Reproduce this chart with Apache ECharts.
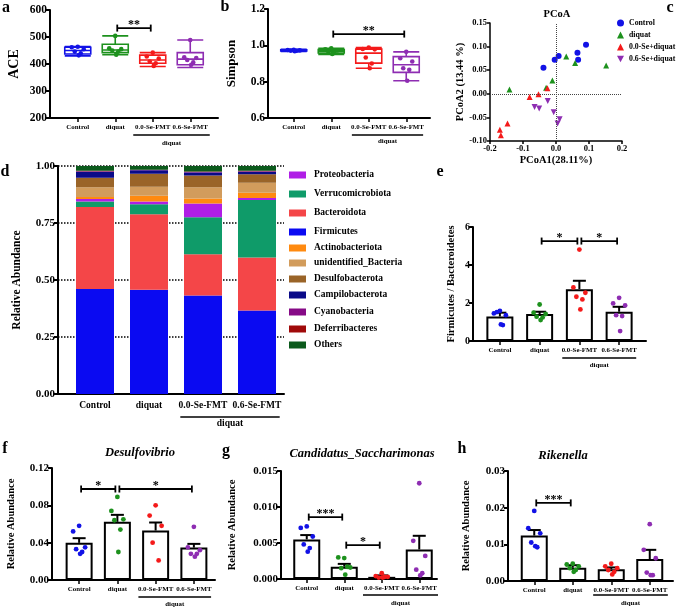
<!DOCTYPE html>
<html>
<head>
<meta charset="UTF-8" />
<title>Gut microbiota</title>
<script src="https://cdn.jsdelivr.net/npm/echarts@6/dist/echarts.min.js"></script>
</head>
<body style="margin:0;background:#fff;">
<div id="main" style="width:685px;height:609px;"></div>
<script type="text/javascript">
// groups on the x axis
var groups = ['Control', 'diquat', '0.0-Se-FMT', '0.6-Se-FMT'];
var groupColors = ['#1212e6', '#1d911d', '#f41a1a', '#8e2db2'];

// a: ACE  [min, Q1, median, Q3, max]
var aceBox = [[430, 437, 450, 462, 465], [434, 442, 452, 473, 504], [391, 403, 415, 433, 442], [387, 397, 418, 442, 489]];
var acePoints = [[464, 462, 455, 446, 440, 432], [504, 458, 455, 450, 446, 434], [442, 428, 420, 409, 403, 393], [489, 425, 422, 415, 406, 397]];

// b: Simpson
var simpsonBox = [[0.966, 0.969, 0.972, 0.975, 0.978], [0.950, 0.958, 0.968, 0.977, 0.984], [0.874, 0.902, 0.957, 0.979, 0.988], [0.805, 0.851, 0.893, 0.938, 0.964]];
var simpsonPoints = [[0.976, 0.974, 0.972, 0.971, 0.970, 0.968], [0.984, 0.978, 0.972, 0.966, 0.958, 0.952], [0.988, 0.980, 0.978, 0.933, 0.900, 0.874], [0.964, 0.929, 0.911, 0.874, 0.865, 0.805]];

// c: PCoA
var pcoaControl = [[0.091, 0.104], [0.065, 0.087], [0.067, 0.072], [0.008, 0.080], [-0.004, 0.072], [-0.038, 0.055]];
var pcoaDiquat = [[0.031, 0.079], [0.058, 0.065], [0.152, 0.060], [-0.011, 0.028], [-0.141, 0.009], [-0.030, 0.013]];
var pcoaSe00 = [[-0.026, 0.012], [-0.053, -0.001], [-0.080, -0.007], [-0.147, -0.063], [-0.170, -0.076], [-0.167, -0.088]];
var pcoaSe06 = [[-0.025, -0.015], [-0.065, -0.028], [-0.051, -0.031], [-0.007, -0.039], [0.011, -0.054], [0.005, -0.063]];

// d: relative abundance of phyla (Control, diquat, 0.0-Se-FMT, 0.6-Se-FMT)
var firmicutes = [0.461, 0.457, 0.432, 0.366];
var bacteroidota = [0.359, 0.331, 0.181, 0.233];
var verrucomicrobiota = [0.024, 0.044, 0.162, 0.252];
var proteobacteria = [0.011, 0.012, 0.060, 0.009];
var actinobacteriota = [0.009, 0.026, 0.022, 0.023];
var unidentifiedBacteria = [0.043, 0.039, 0.050, 0.043];
var desulfobacterota = [0.042, 0.057, 0.051, 0.038];
var campilobacterota = [0.026, 0.015, 0.014, 0.011];
var cyanobacteria = [0.002, 0.002, 0.002, 0.002];
var deferribacteres = [0.002, 0.001, 0.002, 0.002];
var others = [0.021, 0.016, 0.024, 0.021];

// e: Firmicutes / Bacteroidetes
var fbMean = [1.29, 1.42, 2.73, 1.54];
var fbSem = [0.20, 0.12, 0.44, 0.26];
var fbPoints = [[1.59, 1.45, 1.36, 1.52, 0.84, 0.87], [1.92, 1.49, 1.42, 1.28, 1.24, 1.10], [4.81, 2.82, 2.54, 2.33, 2.19, 1.66], [2.27, 1.98, 1.87, 1.36, 1.31, 0.52]];

// f: Desulfovibrio
var desMean = [0.0398, 0.0623, 0.0530, 0.0347];
var desSem = [0.0050, 0.0075, 0.0086, 0.0040];
var desPoints = [[0.058, 0.052, 0.035, 0.033, 0.030, 0.028], [0.089, 0.074, 0.065, 0.064, 0.054, 0.030], [0.080, 0.069, 0.058, 0.040, 0.021], [0.057, 0.035, 0.032, 0.028, 0.028, 0.025]];

// g: Candidatus_Saccharimonas
var candMean = [0.0055, 0.0017, 0.0003, 0.0041];
var candSem = [0.0006, 0.0004, 0.0002, 0.0019];
var candPoints = [[0.0073, 0.0071, 0.0059, 0.0048, 0.0043, 0.0038], [0.0029, 0.0030, 0.0016, 0.0015, 0.0017, 0.0006], [0.0008, 0.0004, 0.0003, 0.0002, 0.0003, 0.0002], [0.0133, 0.0053, 0.0032, 0.0013, 0.0008, 0.0005]];

// h: Rikenella
var rikMean = [0.0124, 0.0036, 0.0032, 0.0060];
var rikSem = [0.0015, 0.0007, 0.0005, 0.0025];
var rikPoints = [[0.0191, 0.0144, 0.0130, 0.0105, 0.0092, 0.0095], [0.0047, 0.0045, 0.0040, 0.0035, 0.0030, 0.0025], [0.0047, 0.0040, 0.0035, 0.0030, 0.0025, 0.0018], [0.0155, 0.0085, 0.0062, 0.0023, 0.0016, 0.0016]];

// significance brackets: [from group, to group, height, stars]
var sigA = [[1, 2, 533, '**']];
var sigB = [[1, 3, 1.062, '**']];
var sigE = [[1, 2, 5.26, '*'], [2, 3, 5.26, '*']];
var sigF = [[0, 1, 0.0975, '*'], [1, 3, 0.0975, '*']];
var sigG = [[0, 1, 0.0086, '***'], [1, 2, 0.0047, '*']];
var sigH = [[0, 1, 0.0213, '***']];

var FONT = '"Liberation Serif", "Times New Roman", serif';
var JIT = [0, -6, 6, -3, 3, 1];
var CAT_FS = 6.9;

var grids = [], xAxes = [], yAxes = [], series = [], graphics = [], legends = [];

// frame grid (axis lines + y labels) and data grid (categories) for one panel
function panel(p, y) {
    var fi = grids.length;
    grids.push({left: p.ax, top: p.top, width: p.ae - p.ax, height: p.bot - p.top, outerBoundsMode: 'none'});
    xAxes.push({gridIndex: fi, type: 'value', min: 0, max: 1,
        axisLine: {show: true, onZero: false, lineStyle: {color: '#000', width: 2}},
        axisTick: {show: false}, axisLabel: {show: false}, splitLine: {show: false}});
    yAxes.push({gridIndex: fi, type: 'value', min: y.min, max: y.max, interval: y.step,
        axisLine: {show: true, onZero: false, lineStyle: {color: '#000', width: 2}},
        axisTick: {show: true, length: 4, lineStyle: {color: '#000', width: 2}},
        axisLabel: {color: '#000', fontFamily: FONT, fontWeight: 'bold', fontSize: y.fs, margin: 3,
            formatter: function (v) { return v.toFixed(y.dec); }},
        splitLine: y.grid ? {show: true, lineStyle: {type: 'dotted', color: '#000', width: 1.5}} : {show: false},
        name: y.name, nameLocation: 'middle', nameGap: y.gap,
        nameTextStyle: {color: '#000', fontFamily: FONT, fontWeight: 'bold', fontSize: y.nfs}});
    var di = grids.length;
    var fs = p.lfs || CAT_FS;
    grids.push({left: p.dl, top: p.top, width: p.dr - p.dl, height: p.bot - p.top, outerBoundsMode: 'none'});
    xAxes.push({gridIndex: di, type: 'category', data: groups,
        axisLine: {show: false},
        axisTick: {show: p.ticks !== false, alignWithLabel: true, length: 4, lineStyle: {color: '#000', width: 1.5}},
        axisLabel: {color: '#000', fontFamily: FONT, fontWeight: 'bold', fontSize: fs, margin: p.lm || 6, interval: 0},
        splitLine: {show: false}});
    yAxes.push({gridIndex: di, type: 'value', min: y.min, max: y.max, show: false});
    // underline + "diquat" under the two FMT groups
    series.push({type: 'custom', xAxisIndex: di, yAxisIndex: di, silent: true, z: 5, data: [[2, y.min]],
        renderItem: function (params, api) {
            var a = api.coord([2, y.min]), b = api.coord([3, y.min]);
            var e = api.size([1, 0])[0] * (p.ext || 0.46);
            return {type: 'group', children: [
                {type: 'line', shape: {x1: a[0] - e, y1: a[1] + p.ul, x2: b[0] + e, y2: a[1] + p.ul},
                    style: {stroke: '#000', lineWidth: 1.5}},
                {type: 'text', style: {x: (a[0] + b[0]) / 2, y: a[1] + p.ut, text: 'diquat', align: 'center',
                    verticalAlign: 'middle', font: 'bold ' + fs + 'px ' + FONT, fill: '#000'}}
            ]};
        }});
    return di;
}

function dots(di, pts, r) {
    var data = [];
    pts.forEach(function (arr, i) { arr.forEach(function (v, k) { data.push([i, v, k]); }); });
    series.push({type: 'custom', xAxisIndex: di, yAxisIndex: di, z: 6, silent: true, data: data, encode: {x: 0, y: 1},
        renderItem: function (params, api) {
            var c = api.coord([api.value(0), api.value(1)]);
            return {type: 'circle', shape: {cx: c[0] + JIT[api.value(2)], cy: c[1], r: r || 2.4},
                style: {fill: groupColors[api.value(0)]}};
        }});
}

function bars(di, mean, sem) {
    series.push({type: 'bar', xAxisIndex: di, yAxisIndex: di, barWidth: 27, silent: true, z: 2, data: mean,
        itemStyle: {color: '#fff', borderColor: '#000', borderWidth: 2}});
    series.push({type: 'custom', xAxisIndex: di, yAxisIndex: di, silent: true, z: 3,
        data: mean.map(function (m, i) { return [i, m, sem[i]]; }), encode: {x: 0, y: 1},
        renderItem: function (params, api) {
            var i = api.value(0), m = api.value(1), s = api.value(2);
            var b = api.coord([i, m]), t = api.coord([i, m + s]);
            return {type: 'group', children: [
                {type: 'line', shape: {x1: b[0], y1: b[1], x2: t[0], y2: t[1]}, style: {stroke: '#000', lineWidth: 2}},
                {type: 'line', shape: {x1: t[0] - 6.5, y1: t[1], x2: t[0] + 6.5, y2: t[1]}, style: {stroke: '#000', lineWidth: 2}}
            ]};
        }});
}

function brackets(di, sig) {
    series.push({type: 'custom', xAxisIndex: di, yAxisIndex: di, silent: true, z: 7,
        data: sig.map(function (s) { return [s[0], s[2]]; }), encode: {x: 0, y: 1},
        renderItem: function (params, api) {
            var s = sig[params.dataIndex];
            var a = api.coord([s[0], s[2]]), b = api.coord([s[1], s[2]]);
            var x1 = a[0] + 2, x2 = b[0] - 2, yy = a[1];
            var st = {stroke: '#000', lineWidth: 1.8};
            return {type: 'group', children: [
                {type: 'line', shape: {x1: x1, y1: yy, x2: x2, y2: yy}, style: st},
                {type: 'line', shape: {x1: x1, y1: yy - 3.5, x2: x1, y2: yy + 3.5}, style: st},
                {type: 'line', shape: {x1: x2, y1: yy - 3.5, x2: x2, y2: yy + 3.5}, style: st},
                {type: 'text', style: {x: (x1 + x2) / 2, y: yy + 3, text: s[3], align: 'center', verticalAlign: 'bottom',
                    font: 'bold 12px ' + FONT, fill: '#000'}}
            ]};
        }});
}

function boxes(di, box, pts) {
    series.push({type: 'boxplot', xAxisIndex: di, yAxisIndex: di, silent: true, boxWidth: [26, 26], z: 3,
        data: box.map(function (v, i) {
            return {value: v, itemStyle: {color: 'rgba(255,255,255,0)', borderColor: groupColors[i], borderWidth: 1.6}};
        })});
    dots(di, pts, 2.3);
}

// a
var aI = panel({ax: 50, ae: 218, dl: 59, dr: 209, top: 10, bot: 118, ul: 17, ut: 25, ext: 0.52},
    {min: 200, max: 600, step: 100, dec: 0, fs: 11.5, name: 'ACE', gap: 29, nfs: 14});
boxes(aI, aceBox, acePoints);
brackets(aI, sigA);

// b
var bI = panel({ax: 268, ae: 430, dl: 275, dr: 425, top: 9, bot: 118, ul: 17, ut: 23, ext: 0.45},
    {min: 0.6, max: 1.2, step: 0.2, dec: 1, fs: 11.5, name: 'Simpson', gap: 30, nfs: 13});
boxes(bI, simpsonBox, simpsonPoints);
brackets(bI, sigB);

// c: PCoA
var cI = grids.length;
grids.push({left: 490, top: 23, width: 132, height: 118, outerBoundsMode: 'none'});
xAxes.push({gridIndex: cI, type: 'value', min: -0.2, max: 0.2, interval: 0.1,
    axisLine: {show: true, onZero: false, lineStyle: {color: '#000', width: 1.5}},
    axisTick: {show: true, length: 3, lineStyle: {color: '#000', width: 1.5}},
    axisLabel: {color: '#000', fontFamily: FONT, fontWeight: 'bold', fontSize: 8.5, margin: 3,
        formatter: function (v) { return v.toFixed(1); }},
    splitLine: {show: false},
    name: 'PCoA1(28.11%)', nameLocation: 'middle', nameGap: 14,
    nameTextStyle: {color: '#000', fontFamily: FONT, fontWeight: 'bold', fontSize: 10.5}});
yAxes.push({gridIndex: cI, type: 'value', min: -0.1, max: 0.15, interval: 0.05,
    axisLine: {show: true, onZero: false, lineStyle: {color: '#000', width: 1.5}},
    axisTick: {show: true, length: 3, lineStyle: {color: '#000', width: 1.5}},
    axisLabel: {color: '#000', fontFamily: FONT, fontWeight: 'bold', fontSize: 8.5, margin: 3,
        formatter: function (v) { return v.toFixed(2); }},
    splitLine: {show: false},
    name: 'PCoA2 (13.44 %)', nameLocation: 'middle', nameGap: 21,
    nameTextStyle: {color: '#000', fontFamily: FONT, fontWeight: 'bold', fontSize: 10.5}});
var pcoaSets = [
    {name: 'Control', data: pcoaControl, symbol: 'circle', size: 6},
    {name: 'diquat', data: pcoaDiquat, symbol: 'triangle', size: 6},
    {name: '0.0-Se+diquat', data: pcoaSe00, symbol: 'triangle', size: 6},
    {name: '0.6-Se+diquat', data: pcoaSe06, symbol: 'path://M0,0L10,0L5,9Z', size: 6}
];
pcoaSets.forEach(function (s, i) {
    var ser = {type: 'scatter', name: s.name, xAxisIndex: cI, yAxisIndex: cI, data: s.data, symbol: s.symbol,
        symbolSize: s.size, silent: true, itemStyle: {color: groupColors[i], opacity: 1}};
    if (i === 0) {
        ser.markLine = {silent: true, symbol: 'none', label: {show: false},
            lineStyle: {type: 'dotted', color: '#444', width: 1}, data: [{xAxis: 0}, {yAxis: 0}]};
    }
    series.push(ser);
});
legends.push({left: 617, top: 19, orient: 'vertical', itemWidth: 7, itemHeight: 7, itemGap: 4, selectedMode: false,
    padding: 0, textStyle: {color: '#000', fontFamily: FONT, fontWeight: 'bold', fontSize: 7.8, padding: [0, 0, 0, 0]},
    data: pcoaSets.map(function (s) { return s.name; })});

// d: stacked relative abundance
var dI = panel({ax: 58, ae: 284, dl: 68, dr: 284, top: 166, bot: 394, ul: 23, ut: 30, ext: 0.42, lfs: 9.5, lm: 7, ticks: false},
    {min: 0, max: 1, step: 0.25, dec: 2, fs: 11, name: 'Relative Abundance', gap: 35, nfs: 11.5, grid: true});
var phyla = [
    {name: 'Firmicutes', data: firmicutes, color: '#0a0af2'},
    {name: 'Bacteroidota', data: bacteroidota, color: '#f44648'},
    {name: 'Verrucomicrobiota', data: verrucomicrobiota, color: '#0f9b69'},
    {name: 'Proteobacteria', data: proteobacteria, color: '#b01ee6'},
    {name: 'Actinobacteriota', data: actinobacteriota, color: '#ff8a10'},
    {name: 'unidentified_Bacteria', data: unidentifiedBacteria, color: '#d29c5c'},
    {name: 'Desulfobacterota', data: desulfobacterota, color: '#9a6428'},
    {name: 'Campilobacterota', data: campilobacterota, color: '#0a0a88'},
    {name: 'Cyanobacteria', data: cyanobacteria, color: '#860a86'},
    {name: 'Deferribacteres', data: deferribacteres, color: '#a00a0a'},
    {name: 'Others', data: others, color: '#0b5a1c'}
];
phyla.forEach(function (ph) {
    series.push({type: 'bar', name: ph.name, xAxisIndex: dI, yAxisIndex: dI, stack: 'phyla', barWidth: 38, silent: true,
        data: ph.data, itemStyle: {color: ph.color}});
});
var legendOrder = ['Proteobacteria', 'Verrucomicrobiota', 'Bacteroidota', 'Firmicutes', 'Actinobacteriota',
    'unidentified_Bacteria', 'Desulfobacterota', 'Campilobacterota', 'Cyanobacteria', 'Deferribacteres', 'Others'];
var legendRows = [169, 188, 207, 226, 242, 257, 273, 289, 306, 323, 339];
legendOrder.forEach(function (n, i) {
    legends.push({left: 284, top: legendRows[i] - 4, itemWidth: 17, itemHeight: 7, selectedMode: false,
        icon: 'rect', textStyle: {color: '#000', fontFamily: FONT, fontWeight: 'bold', fontSize: 9.5, padding: [0, 0, 0, 3]},
        data: [n]});
});

// e
var eI = panel({ax: 473, ae: 646, dl: 480, dr: 639, top: 227, bot: 341, ul: 17, ut: 24, ext: 0.43},
    {min: 0, max: 6, step: 2, dec: 0, fs: 10, name: 'Firmicutes / Bacteroidetes', gap: 16, nfs: 10.5});
bars(eI, fbMean, fbSem);
dots(eI, fbPoints);
brackets(eI, sigE);

// f
var fI = panel({ax: 52, ae: 215, dl: 60, dr: 213, top: 468, bot: 580, ul: 17, ut: 24, ext: 0.45},
    {min: 0, max: 0.12, step: 0.04, dec: 2, fs: 11, name: 'Relative Abundance', gap: 35, nfs: 10.5});
bars(fI, desMean, desSem);
dots(fI, desPoints);
brackets(fI, sigF);

// g
var gI = panel({ax: 281, ae: 437, dl: 288, dr: 438, top: 471, bot: 579, ul: 16, ut: 24, ext: 0.5},
    {min: 0, max: 0.015, step: 0.005, dec: 3, fs: 11, name: 'Relative Abundance', gap: 43, nfs: 10.5});
bars(gI, candMean, candSem);
dots(gI, candPoints);
brackets(gI, sigG);

// h
var hI = panel({ax: 508, ae: 673, dl: 515, dr: 669, top: 471, bot: 581, ul: 14, ut: 22, ext: 0.47},
    {min: 0, max: 0.03, step: 0.01, dec: 2, fs: 11, name: 'Relative Abundance', gap: 36, nfs: 10.5});
bars(hI, rikMean, rikSem);
dots(hI, rikPoints);
brackets(hI, sigH);

// panel letters and titles
function label(t, x, y, font) {
    graphics.push({type: 'text', x: x, y: y, silent: true,
        style: {text: t, align: 'center', verticalAlign: 'middle', font: font, fill: '#000'}});
}
var letterFont = 'bold 16px ' + FONT;
label('a', 6, 8, letterFont);
label('b', 225, 7, letterFont);
label('c', 670, 8, letterFont);
label('d', 5, 172, letterFont);
label('e', 440, 172, letterFont);
label('f', 5, 449, letterFont);
label('g', 226, 451, letterFont);
label('h', 462, 449, letterFont);
label('PCoA', 557, 14, 'bold 10.5px ' + FONT);
label('Desulfovibrio', 140, 453, 'italic bold 12.5px ' + FONT);
label('Candidatus_Saccharimonas', 362, 454, 'italic bold 12.5px ' + FONT);
label('Rikenella', 563, 456, 'italic bold 12.5px ' + FONT);

var chart = echarts.init(document.getElementById('main'));
chart.setOption({
    backgroundColor: '#fff',
    animation: false,
    grid: grids,
    xAxis: xAxes,
    yAxis: yAxes,
    legend: legends,
    graphic: graphics,
    series: series
});
</script>
</body>
</html>
